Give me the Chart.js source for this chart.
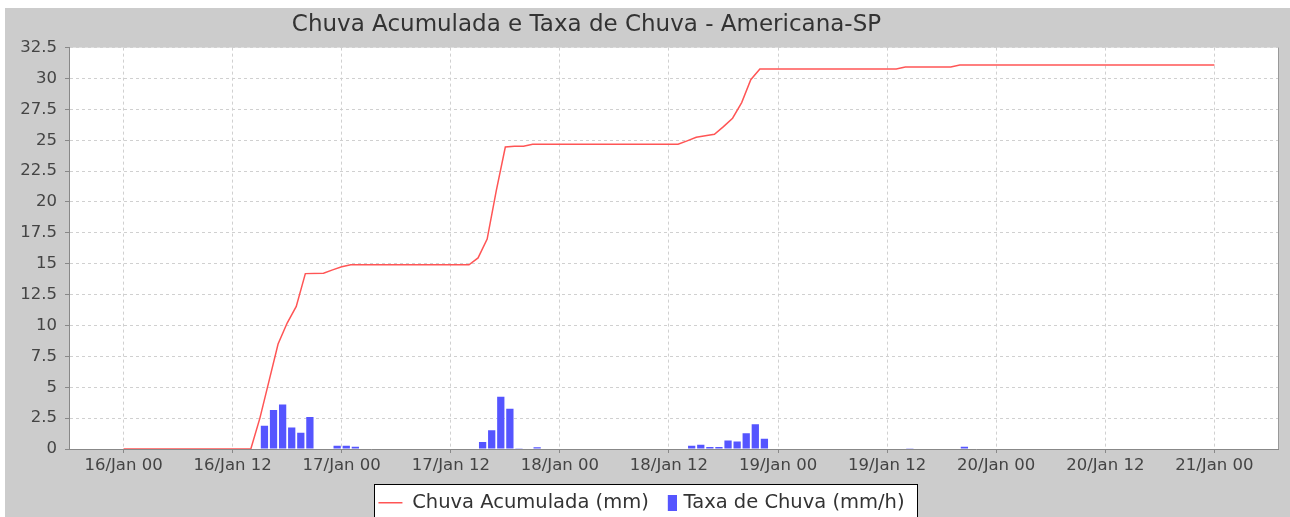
<!DOCTYPE html>
<html><head><meta charset="utf-8">
<script src="https://cdn.jsdelivr.net/npm/chart.js@4/dist/chart.umd.min.js"></script>
<style>html,body{margin:0;padding:0;background:#fff;}canvas{display:block;}</style>
</head><body>
<canvas id="c" width="1290" height="517"></canvas>
<script>
// Hours counted from 16/Jan 00:00
const accumHours  = [0, 14, 15, 16, 17, 18, 19, 20, 22, 23, 24, 25, 38, 39, 40, 41, 42, 43, 44, 45, 61, 62, 63, 64, 65, 66, 67, 68, 69, 70, 85, 86, 91, 92, 120];
const accumValues = [0, 0, 2.5, 5.5, 8.5, 10.2, 11.55, 14.2, 14.23, 14.5, 14.75, 14.92, 14.92, 15.47, 17.0, 20.9, 24.45, 24.52, 24.52, 24.67, 24.67, 24.95, 25.24, 25.36, 25.48, 26.1, 26.78, 28.05, 29.9, 30.77, 30.77, 30.93, 30.93, 31.09, 31.09];
const rateHours  = [15.5, 16.5, 17.5, 18.5, 19.5, 20.5, 23.5, 24.5, 25.5, 39.5, 40.5, 41.5, 42.5, 43.5, 45.5, 62.5, 63.5, 64.5, 65.5, 66.5, 67.5, 68.5, 69.5, 70.5, 86.5, 92.5];
const rateValues = [1.89, 3.16, 3.6, 1.75, 1.32, 2.59, 0.27, 0.27, 0.19, 0.57, 1.51, 4.24, 3.26, 0.03, 0.15, 0.27, 0.35, 0.16, 0.16, 0.68, 0.6, 1.27, 2.0, 0.84, 0.03, 0.19];
const xTickHours  = [0, 12, 24, 36, 48, 60, 72, 84, 96, 108, 120];
const xTickLabels = ['16/Jan 00', '16/Jan 12', '17/Jan 00', '17/Jan 12', '18/Jan 00', '18/Jan 12', '19/Jan 00', '19/Jan 12', '20/Jan 00', '20/Jan 12', '21/Jan 00'];
const seriesLabels = ['Chuva Acumulada (mm)', 'Taxa de Chuva (mm/h)'];
const chartTitle = 'Chuva Acumulada e Taxa de Chuva - Americana-SP';

Chart.defaults.font.family = "'DejaVu Sans', sans-serif";

const rectImg = document.createElement('canvas');
rectImg.width = 30; rectImg.height = 16;
(function(){ const g = rectImg.getContext('2d'); g.fillStyle = '#5555ff'; g.fillRect(21, 0, 9, 16); })();

const decor = {
  id: 'decor',
  afterLayout(chart) {
    const t = chart.titleBlock;
    if (t) { t.left = 0; t.right = 1173; }
  },
  beforeDraw(chart) {
    const {ctx, width, height, chartArea: a} = chart;
    ctx.save();
    ctx.fillStyle = '#ffffff'; ctx.fillRect(0, 0, width, height);
    ctx.fillStyle = '#cccccc'; ctx.fillRect(5, 8, width - 5, height - 8);
    ctx.fillStyle = '#ffffff'; ctx.fillRect(a.left, a.top, a.right - a.left, a.bottom - a.top);
    const lg = chart.legend;
    if (lg && lg.legendHitBoxes && lg.legendHitBoxes.length) {
      const hb = lg.legendHitBoxes;
      const x0 = Math.round(hb[0].left - 4);
      const last = hb[hb.length - 1];
      const x1 = Math.round(last.left + last.width + 12);
      ctx.fillStyle = '#ffffff'; ctx.fillRect(x0, 484, x1 - x0, 40);
      ctx.strokeStyle = '#000000'; ctx.lineWidth = 1;
      ctx.strokeRect(x0 + 0.5, 484.5, x1 - x0, 40);
    }
    ctx.restore();
  },
  afterDraw(chart) {
    const {ctx, chartArea: a} = chart;
    ctx.save();
    ctx.strokeStyle = '#999999'; ctx.lineWidth = 1;
    ctx.beginPath();
    ctx.moveTo(Math.round(a.right) + 0.5, a.top);
    ctx.lineTo(Math.round(a.right) + 0.5, a.bottom);
    ctx.stroke();
    ctx.restore();
  }
};

const gridOpts = { color: '#d0d0d0', tickColor: '#888888', tickLength: 4, offset: false };
const borderOpts = { color: '#888888', dash: [3, 3], width: 1 };
const tickFont = { family: "'DejaVu Sans', sans-serif", size: 16.5 };

new Chart(document.getElementById('c'), {
  type: 'bar',
  data: {
    datasets: [
      {
        type: 'line',
        label: seriesLabels[0],
        data: accumHours.map((h, i) => ({ x: h, y: accumValues[i] })),
        borderColor: '#ff5555',
        backgroundColor: '#ff5555',
        borderWidth: 1.5,
        pointRadius: 0,
        tension: 0,
        fill: false,
        order: 0
      },
      {
        type: 'bar',
        label: seriesLabels[1],
        data: rateHours.map((h, i) => ({ x: h, y: rateValues[i] })),
        backgroundColor: '#5555ff',
        borderWidth: 0,
        barPercentage: 0.8,
        categoryPercentage: 1.0,
        order: 1
      }
    ]
  },
  options: {
    responsive: false,
    animation: false,
    devicePixelRatio: 1,
    layout: { padding: { top: 8, left: 5, right: 12, bottom: 0 } },
    plugins: {
      tooltip: { enabled: false },
      title: {
        display: true,
        text: chartTitle,
        color: '#333333',
        font: { family: "'DejaVu Sans', sans-serif", size: 23, weight: 'normal' },
        padding: { top: 3.4, bottom: 8.6 }
      },
      legend: {
        position: 'bottom',
        maxHeight: 25,
        labels: {
          padding: 1,
          usePointStyle: true,
          pointStyleWidth: 24,
          color: '#333333',
          font: { family: "'DejaVu Sans', sans-serif", size: 19.5 },
          generateLabels(chart) {
            return chart.data.datasets.map((ds, i) => ({
              text: ds.label,
              fillStyle: i === 0 ? 'rgba(0,0,0,0)' : '#5555ff',
              strokeStyle: i === 0 ? '#ff5555' : '#5555ff',
              lineWidth: i === 0 ? 1.5 : 0,
              pointStyle: i === 0 ? 'line' : rectImg,
              fontColor: '#333333',
              hidden: false,
              datasetIndex: i
            }));
          }
        }
      }
    },
    scales: {
      x: {
        type: 'linear',
        min: -6,
        max: 127,
        offset: false,
        afterBuildTicks: s => { s.ticks = xTickHours.map(v => ({ value: v })); },
        afterFit: s => { s.height = 43; },
        ticks: {
          autoSkip: false,
          maxRotation: 0,
          padding: 3,
          color: '#444444',
          font: tickFont,
          callback: v => { const k = xTickHours.indexOf(v); return k >= 0 ? xTickLabels[k] : ''; }
        },
        grid: gridOpts,
        border: borderOpts
      },
      y: {
        min: 0,
        max: 32.5,
        afterFit: s => { s.width = 64; },
        ticks: { stepSize: 2.5, padding: 8, color: '#444444', font: tickFont },
        grid: gridOpts,
        border: borderOpts
      }
    }
  },
  plugins: [decor]
});
</script>
</body></html>
